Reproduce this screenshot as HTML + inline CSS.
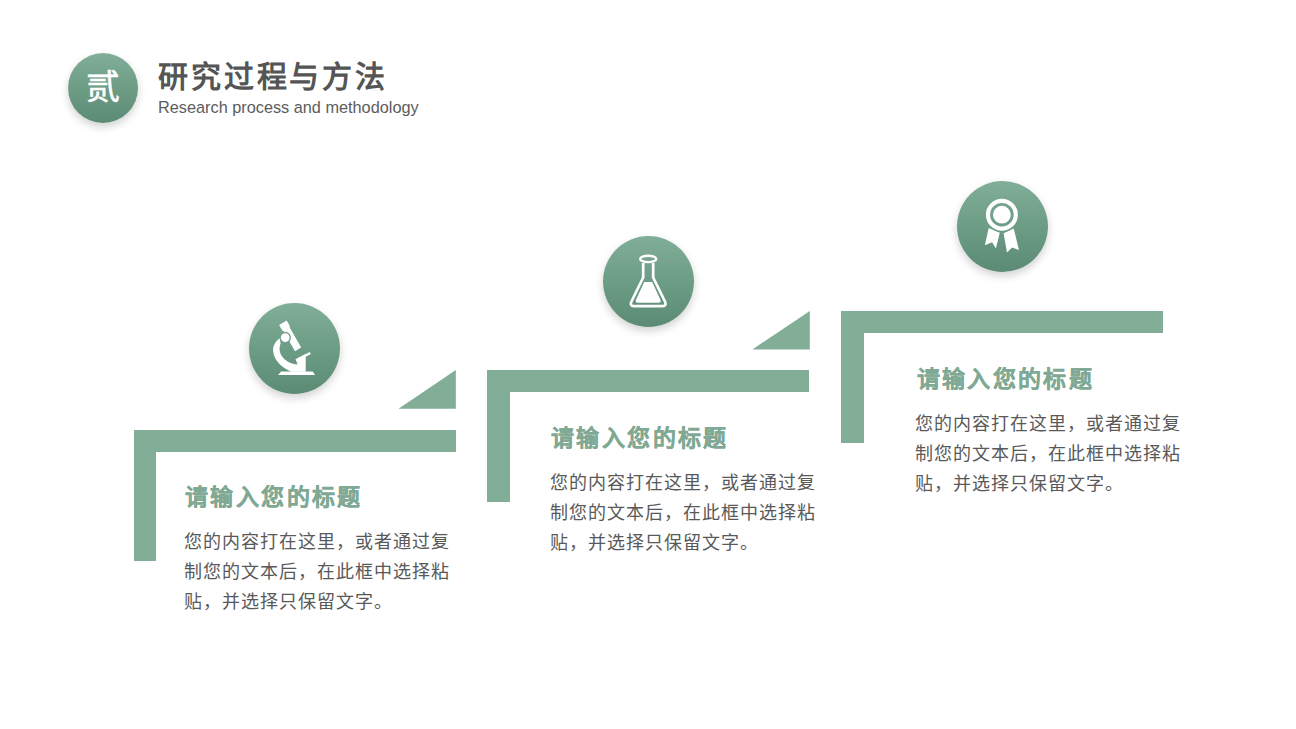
<!DOCTYPE html>
<html lang="zh-CN"><head><meta charset="utf-8">
<style>
html,body{margin:0;padding:0;background:#fff;}
body{width:1296px;height:729px;position:relative;overflow:hidden;font-family:"Liberation Sans",sans-serif;}
.abs{position:absolute;}
.circ{position:absolute;border-radius:50%;background:linear-gradient(180deg,#80ae98 0%,#5b8b74 100%);box-shadow:0 4px 8px rgba(0,0,0,0.18);}
.bar{position:absolute;background:#82ad97;}
.ttl{position:absolute;color:#7fa994;-webkit-text-stroke:0.2px #7fa994;font-weight:bold;font-size:23px;line-height:30px;white-space:nowrap;letter-spacing:2.4px;}
.txt{position:absolute;color:#595959;font-size:18px;line-height:30px;width:300px;letter-spacing:1.0px;}
.txt div{white-space:nowrap;}
</style></head>
<body>
<!-- header -->
<div class="circ" style="left:68px;top:53px;width:70px;height:70px;"></div>
<div class="abs" style="left:68px;top:53px;width:70px;height:70px;line-height:69px;text-align:center;color:#fff;font-size:34px;font-weight:400;-webkit-text-stroke:0.5px #fff;">贰</div>
<div class="abs" style="left:158px;top:57px;font-size:30px;font-weight:bold;color:#555;line-height:40px;white-space:nowrap;letter-spacing:2.85px;">研究过程与方法</div>
<div class="abs" style="left:158px;top:96px;font-size:16.3px;color:#5c5c5c;line-height:22px;white-space:nowrap;">Research process and methodology</div>

<!-- step 1 -->
<div class="bar" style="left:133.5px;top:429.5px;width:322px;height:22px;"></div>
<div class="bar" style="left:133.5px;top:429.5px;width:22.5px;height:131.7px;"></div>
<svg class="abs" style="left:0;top:0" width="1296" height="729">
  <polygon points="398.5,408.7 455.8,408.7 455.8,369.9" fill="#82ad97"/>
  <polygon points="752.4,349.4 809.8,349.4 809.8,310.9" fill="#82ad97"/>
</svg>
<div class="circ" style="left:249px;top:302.5px;width:91px;height:91px;"></div>
<div class="ttl" style="left:185px;top:481.6px;">请输入您的标题</div>
<div class="txt" style="left:184px;top:527.3px;"><div>您的内容打在这里，或者通过复</div><div>制您的文本后，在此框中选择粘</div><div>贴，并选择只保留文字。</div></div>

<!-- step 2 -->
<div class="bar" style="left:487.2px;top:370.2px;width:322.3px;height:22.2px;"></div>
<div class="bar" style="left:487.2px;top:370.2px;width:22.8px;height:131.8px;"></div>
<div class="circ" style="left:602.7px;top:236px;width:91px;height:91px;"></div>
<div class="ttl" style="left:551px;top:423px;">请输入您的标题</div>
<div class="txt" style="left:549.5px;top:468.1px;"><div>您的内容打在这里，或者通过复</div><div>制您的文本后，在此框中选择粘</div><div>贴，并选择只保留文字。</div></div>

<!-- step 3 -->
<div class="bar" style="left:841.1px;top:311.2px;width:322px;height:22.2px;"></div>
<div class="bar" style="left:841.1px;top:311.2px;width:22.9px;height:131.6px;"></div>
<div class="circ" style="left:956.5px;top:180.5px;width:91px;height:91px;"></div>
<div class="ttl" style="left:916.5px;top:364.1px;">请输入您的标题</div>
<div class="txt" style="left:915px;top:408.9px;"><div>您的内容打在这里，或者通过复</div><div>制您的文本后，在此框中选择粘</div><div>贴，并选择只保留文字。</div></div>

<svg class="abs" style="left:0;top:0" width="1296" height="729">
  <defs>
    <linearGradient id="g1" gradientUnits="userSpaceOnUse" x1="0" y1="302.5" x2="0" y2="393.5"><stop offset="0" stop-color="#80ae98"/><stop offset="1" stop-color="#5b8b74"/></linearGradient>
    <linearGradient id="g2" gradientUnits="userSpaceOnUse" x1="0" y1="236" x2="0" y2="327"><stop offset="0" stop-color="#80ae98"/><stop offset="1" stop-color="#5b8b74"/></linearGradient>
    <linearGradient id="g3" gradientUnits="userSpaceOnUse" x1="0" y1="180.5" x2="0" y2="271.5"><stop offset="0" stop-color="#80ae98"/><stop offset="1" stop-color="#5b8b74"/></linearGradient>
  </defs>
  <!-- microscope -->
  <g fill="#fff">
    <polygon points="286.7,320.6 289.9,326.3 289.7,327.5 301.2,347.6 295.0,351.2 283.5,331.1 282.3,330.6 279.1,325.0"/>
    <circle cx="285.2" cy="337.6" r="5.1" stroke="url(#g1)" stroke-width="1.4"/>
    <path d="M279.6,338.2 C274.6,342 272.6,347 273.2,351.5 C274.2,360 281,367.6 291.5,371.8 L298,371.8 L298,364.6 C291,364.2 285.2,361 281.8,356 C279.2,352 279,347 280.6,343.4 Z"/>
    <polygon points="295.6,359.2 309.8,351.9 310.9,354.1 296.8,361.4"/>
    <polygon points="297.4,358.2 305.7,353.9 305.7,371.8 297.4,371.8"/>
    <polygon points="295.6,359.2 297.6,358.6 297.6,364.6"/>
    <polygon points="281,371.6 312.8,371.6 315,375.1 278.2,375.1"/>
  </g>
  <!-- flask -->
  <g>
    <path d="M643.2,263 V277.5 L631.2,302 Q629.6,306.2 634.6,306.2 H661.8 Q666.8,306.2 665.2,302 L653.2,277.5 V263" fill="none" stroke="#fff" stroke-width="2.7" stroke-linejoin="round"/>
    <ellipse cx="648.2" cy="258.9" rx="8" ry="3.2" fill="none" stroke="#fff" stroke-width="2.4"/>
    <path d="M644.2,282 H652.2 L660.4,299.8 Q661.6,302.8 658.4,302.8 H638 Q634.8,302.8 636,299.8 Z" fill="#fff"/>
  </g>
  <!-- ribbon -->
  <g fill="#fff">
    <polygon points="988.7,227.9 999.8,232.7 995.9,248.5 992.1,242.3 984.9,245.2"/>
    <polygon points="1003.6,233.2 1013.7,228.4 1019,250 1012.2,247.6 1007,252.4"/>
    <circle cx="1001.9" cy="214.7" r="17.4" fill="url(#g3)"/>
    <circle cx="1001.9" cy="214.7" r="16"/>
    <circle cx="1001.9" cy="214.7" r="10.35" fill="none" stroke="url(#g3)" stroke-width="2.9"/>
  </g>
</svg>
</body></html>
